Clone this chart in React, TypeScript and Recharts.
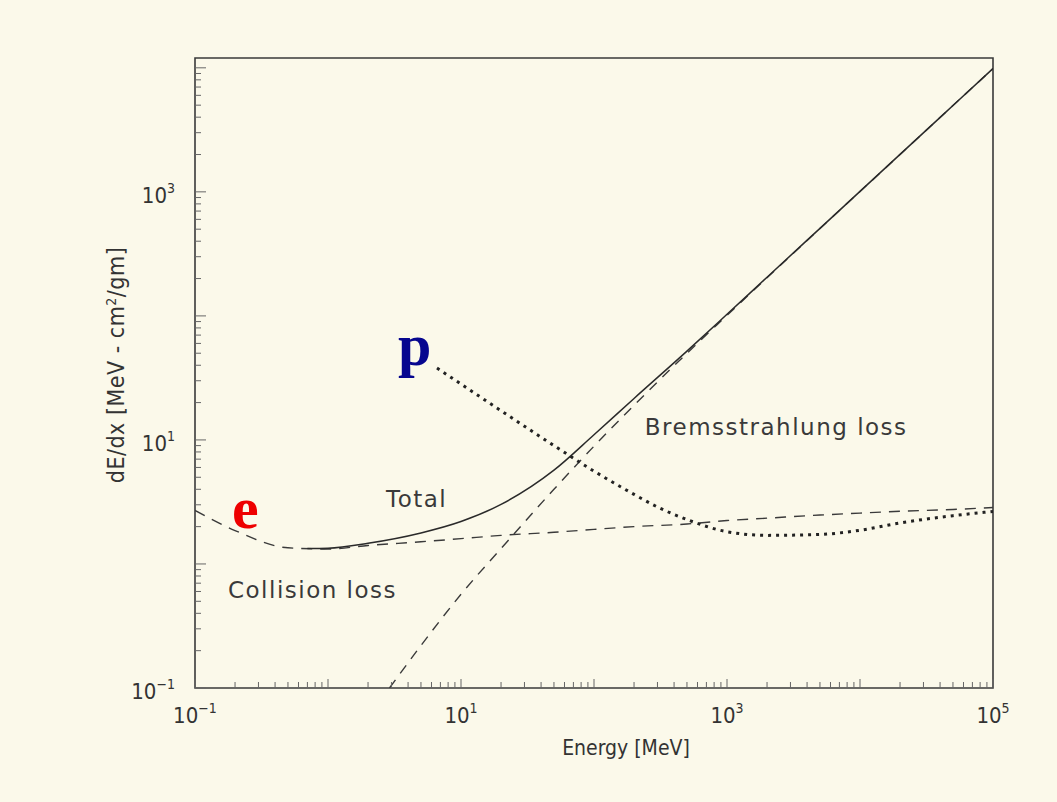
import React from 'react';
import { LineChart, Line, XAxis, YAxis, ReferenceArea, ReferenceDot } from 'recharts';

// energy [MeV] vs stopping power dE/dx [MeV cm^2/g]
const collisionE = [0.1, 0.2, 0.5, 1, 2, 5, 10, 20, 50, 100, 200, 500, 1000, 2000, 5000, 10000, 20000, 50000, 100000];
const collisionLoss = [2.7, 1.86, 1.35, 1.32, 1.41, 1.51, 1.6, 1.7, 1.8, 1.9, 2.0, 2.1, 2.24, 2.34, 2.48, 2.57, 2.66, 2.75, 2.85];

const bremsE = [2.9, 5, 10, 20, 50, 100, 200, 500, 1000, 2000, 5000, 10000, 20000, 50000, 100000];
const bremsLoss = [0.1, 0.22, 0.57, 1.33, 4.0, 8.9, 19, 50, 101, 203, 506, 1006, 2002, 4963, 9857];

const totalE = [0.7, 1, 2, 5, 10, 20, 50, 100, 200, 500, 1000, 2000, 5000, 10000, 20000, 50000, 100000];
const totalLoss = [1.33, 1.34, 1.47, 1.78, 2.2, 3.02, 5.7, 11.0, 21.6, 52, 103, 205, 508, 1009, 2005, 4966, 9860];

// proton curve
const protonE = [6.6, 10, 20, 50, 100, 200, 300, 500, 1000, 2000, 5000, 10000, 20000, 50000, 100000];
const protonLoss = [38, 28.2, 17.2, 9.0, 5.6, 3.64, 2.88, 2.28, 1.82, 1.7, 1.73, 1.87, 2.14, 2.45, 2.65];

// labelled decades
const xTickValues = [0.1, 10, 1000, 100000];
const xTickLabels = ['\u22121', '1', '3', '5'];
const yTickValues = [0.1, 10, 1000];
const yTickLabels = ['\u22121', '1', '3'];

const X_DOMAIN = [0.1, 100000];
const Y_DOMAIN = [0.1, 12000];

const toPoints = (xs: number[], ys: number[]) => xs.map((E, i) => ({ E, v: ys[i] }));

const collisionData = toPoints(collisionE, collisionLoss);
const bremsData = toPoints(bremsE, bremsLoss);
const totalData = toPoints(totalE, totalLoss);
const protonData = toPoints(protonE, protonLoss);

// log axis tick positions: 1..9 x 10^k
const logTicks = (lo: number, hi: number) => {
    const t: number[] = [];
    for (let k = lo; k < hi; k++) {
        for (let d = 1; d < 10; d++) t.push(+(d * Math.pow(10, k)).toPrecision(2));
    }
    t.push(Math.pow(10, hi));
    return t;
};

const isDecade = (v: number) => {
    const l = Math.log10(v);
    return Math.abs(l - Math.round(l)) < 1e-6;
};

const INK = '#333';
const FONT = '"DejaVu Sans", sans-serif';
const AXIS_FONT = '"DejaVu Sans Condensed", "DejaVu Sans", sans-serif';

const XTick = ({ x, y, payload }: any) => {
    const v = payload.value;
    const idx = xTickValues.indexOf(v);
    return (
        <g>
            <line x1={x} x2={x} y1={y} y2={y - (isDecade(v) ? 9 : 6)} stroke="#666" strokeWidth={1} />
            {idx >= 0 && (
                <text x={x} y={y + 35} textAnchor="middle" fontSize={22} fill={INK} fontFamily={AXIS_FONT}>
                    10<tspan dy={-10} fontSize={14}>{xTickLabels[idx]}</tspan>
                </text>
            )}
        </g>
    );
};

const YTick = ({ x, y, payload }: any) => {
    const v = payload.value;
    const idx = yTickValues.indexOf(v);
    return (
        <g>
            <line x1={x} x2={x + (isDecade(v) ? 11 : 6)} y1={y} y2={y} stroke="#666" strokeWidth={1} />
            {idx >= 0 && (
                <text x={x - 20} y={y + 11} textAnchor="end" fontSize={22} fill={INK} fontFamily={AXIS_FONT}>
                    10<tspan dy={-10} fontSize={14}>{yTickLabels[idx]}</tspan>
                </text>
            )}
        </g>
    );
};

// annotations anchored in data space (text start, baseline)
const notes = [
    { text: 'Total', E: 2.73, v: 2.88, color: '#3a3a3a', serif: false },
    { text: 'Collision loss', E: 0.177, v: 0.532, color: '#3a3a3a', serif: false },
    { text: 'Bremsstrahlung loss', E: 241, v: 10.97, color: '#3a3a3a', serif: false },
    { text: 'e', E: 0.19, v: 1.95, color: '#ee0000', serif: true },
    { text: 'p', E: 3.36, v: 40.3, color: '#06068f', serif: true },
];

const noteContent = (n: (typeof notes)[number]) => (props: any) => {
    const vb = props.viewBox || {};
    return n.serif ? (
        <text x={vb.x} y={vb.y} fontSize={60} fontWeight="bold" fill={n.color} fontFamily='"Liberation Serif", serif'>
            {n.text}
        </text>
    ) : (
        <text x={vb.x} y={vb.y} fontSize={23} letterSpacing={1.5} fill={n.color} fontFamily={FONT}>
            {n.text}
        </text>
    );
};

const xTitle = (props: any) => {
    const vb = props.viewBox;
    return (
        <text x={vb.x + 431} y={vb.y + 67} textAnchor="middle" fontSize={21} fill={INK} fontFamily={AXIS_FONT}>
            Energy [MeV]
        </text>
    );
};

const yTitle = (props: any) => {
    const vb = props.viewBox;
    const cx = vb.x - 11;
    const cy = vb.y + 307;
    return (
        <text
            x={cx}
            y={cy}
            textAnchor="middle"
            fontSize={23}
            letterSpacing={0.5}
            fill={INK}
            fontFamily={AXIS_FONT}
            transform={`rotate(-90 ${cx} ${cy})`}
        >
            dE/dx [MeV - cm<tspan dy={-8} fontSize={14}>2</tspan><tspan dy={8}>/gm]</tspan>
        </text>
    );
};

export default function App() {
    return (
        <div style={{ position: 'absolute', left: 0, top: 0, width: 1057, height: 802, background: '#fbf9ea' }}>
            <LineChart width={1057} height={802} margin={{ top: 58, right: 64, left: 135, bottom: 84 }}>
                <XAxis
                    dataKey="E"
                    type="number"
                    scale="log"
                    domain={X_DOMAIN}
                    allowDataOverflow
                    ticks={logTicks(-1, 5)}
                    interval={0}
                    tickSize={0}
                    tickMargin={0}
                    tick={<XTick />}
                    axisLine={false}
                    height={30}
                    label={{ content: xTitle }}
                />
                <YAxis
                    type="number"
                    scale="log"
                    domain={Y_DOMAIN}
                    allowDataOverflow
                    ticks={logTicks(-1, 4)}
                    interval={0}
                    tickSize={0}
                    tickMargin={0}
                    tick={<YTick />}
                    axisLine={false}
                    width={60}
                    label={{ content: yTitle }}
                />

                {/* plot frame */}
                <ReferenceArea
                    x1={X_DOMAIN[0]}
                    x2={X_DOMAIN[1]}
                    y1={Y_DOMAIN[0]}
                    y2={Y_DOMAIN[1]}
                    fill="none"
                    stroke="#3a3a3a"
                    strokeWidth={1.6}
                    ifOverflow="visible"
                />

                {/* collision loss */}
                <Line
                    data={collisionData}
                    dataKey="v"
                    type="monotone"
                    stroke="#3a3a3a"
                    strokeWidth={1.4}
                    strokeDasharray="11 8"
                    dot={false}
                    isAnimationActive={false}
                />
                {/* bremsstrahlung loss */}
                <Line
                    data={bremsData}
                    dataKey="v"
                    type="monotone"
                    stroke="#3a3a3a"
                    strokeWidth={1.4}
                    strokeDasharray="10 8"
                    dot={false}
                    isAnimationActive={false}
                />
                {/* total */}
                <Line
                    data={totalData}
                    dataKey="v"
                    type="monotone"
                    stroke="#2a2a2a"
                    strokeWidth={1.5}
                    dot={false}
                    isAnimationActive={false}
                />
                {/* proton */}
                <Line
                    data={protonData}
                    dataKey="v"
                    type="monotone"
                    stroke="#222"
                    strokeWidth={3}
                    strokeDasharray="3 5"
                    dot={false}
                    isAnimationActive={false}
                />

                {notes.map((n) => (
                    <ReferenceDot
                        key={n.text}
                        x={n.E}
                        y={n.v}
                        r={0}
                        fill="none"
                        stroke="none"
                        label={{ content: noteContent(n) }}
                    />
                ))}
            </LineChart>
        </div>
    );
}
